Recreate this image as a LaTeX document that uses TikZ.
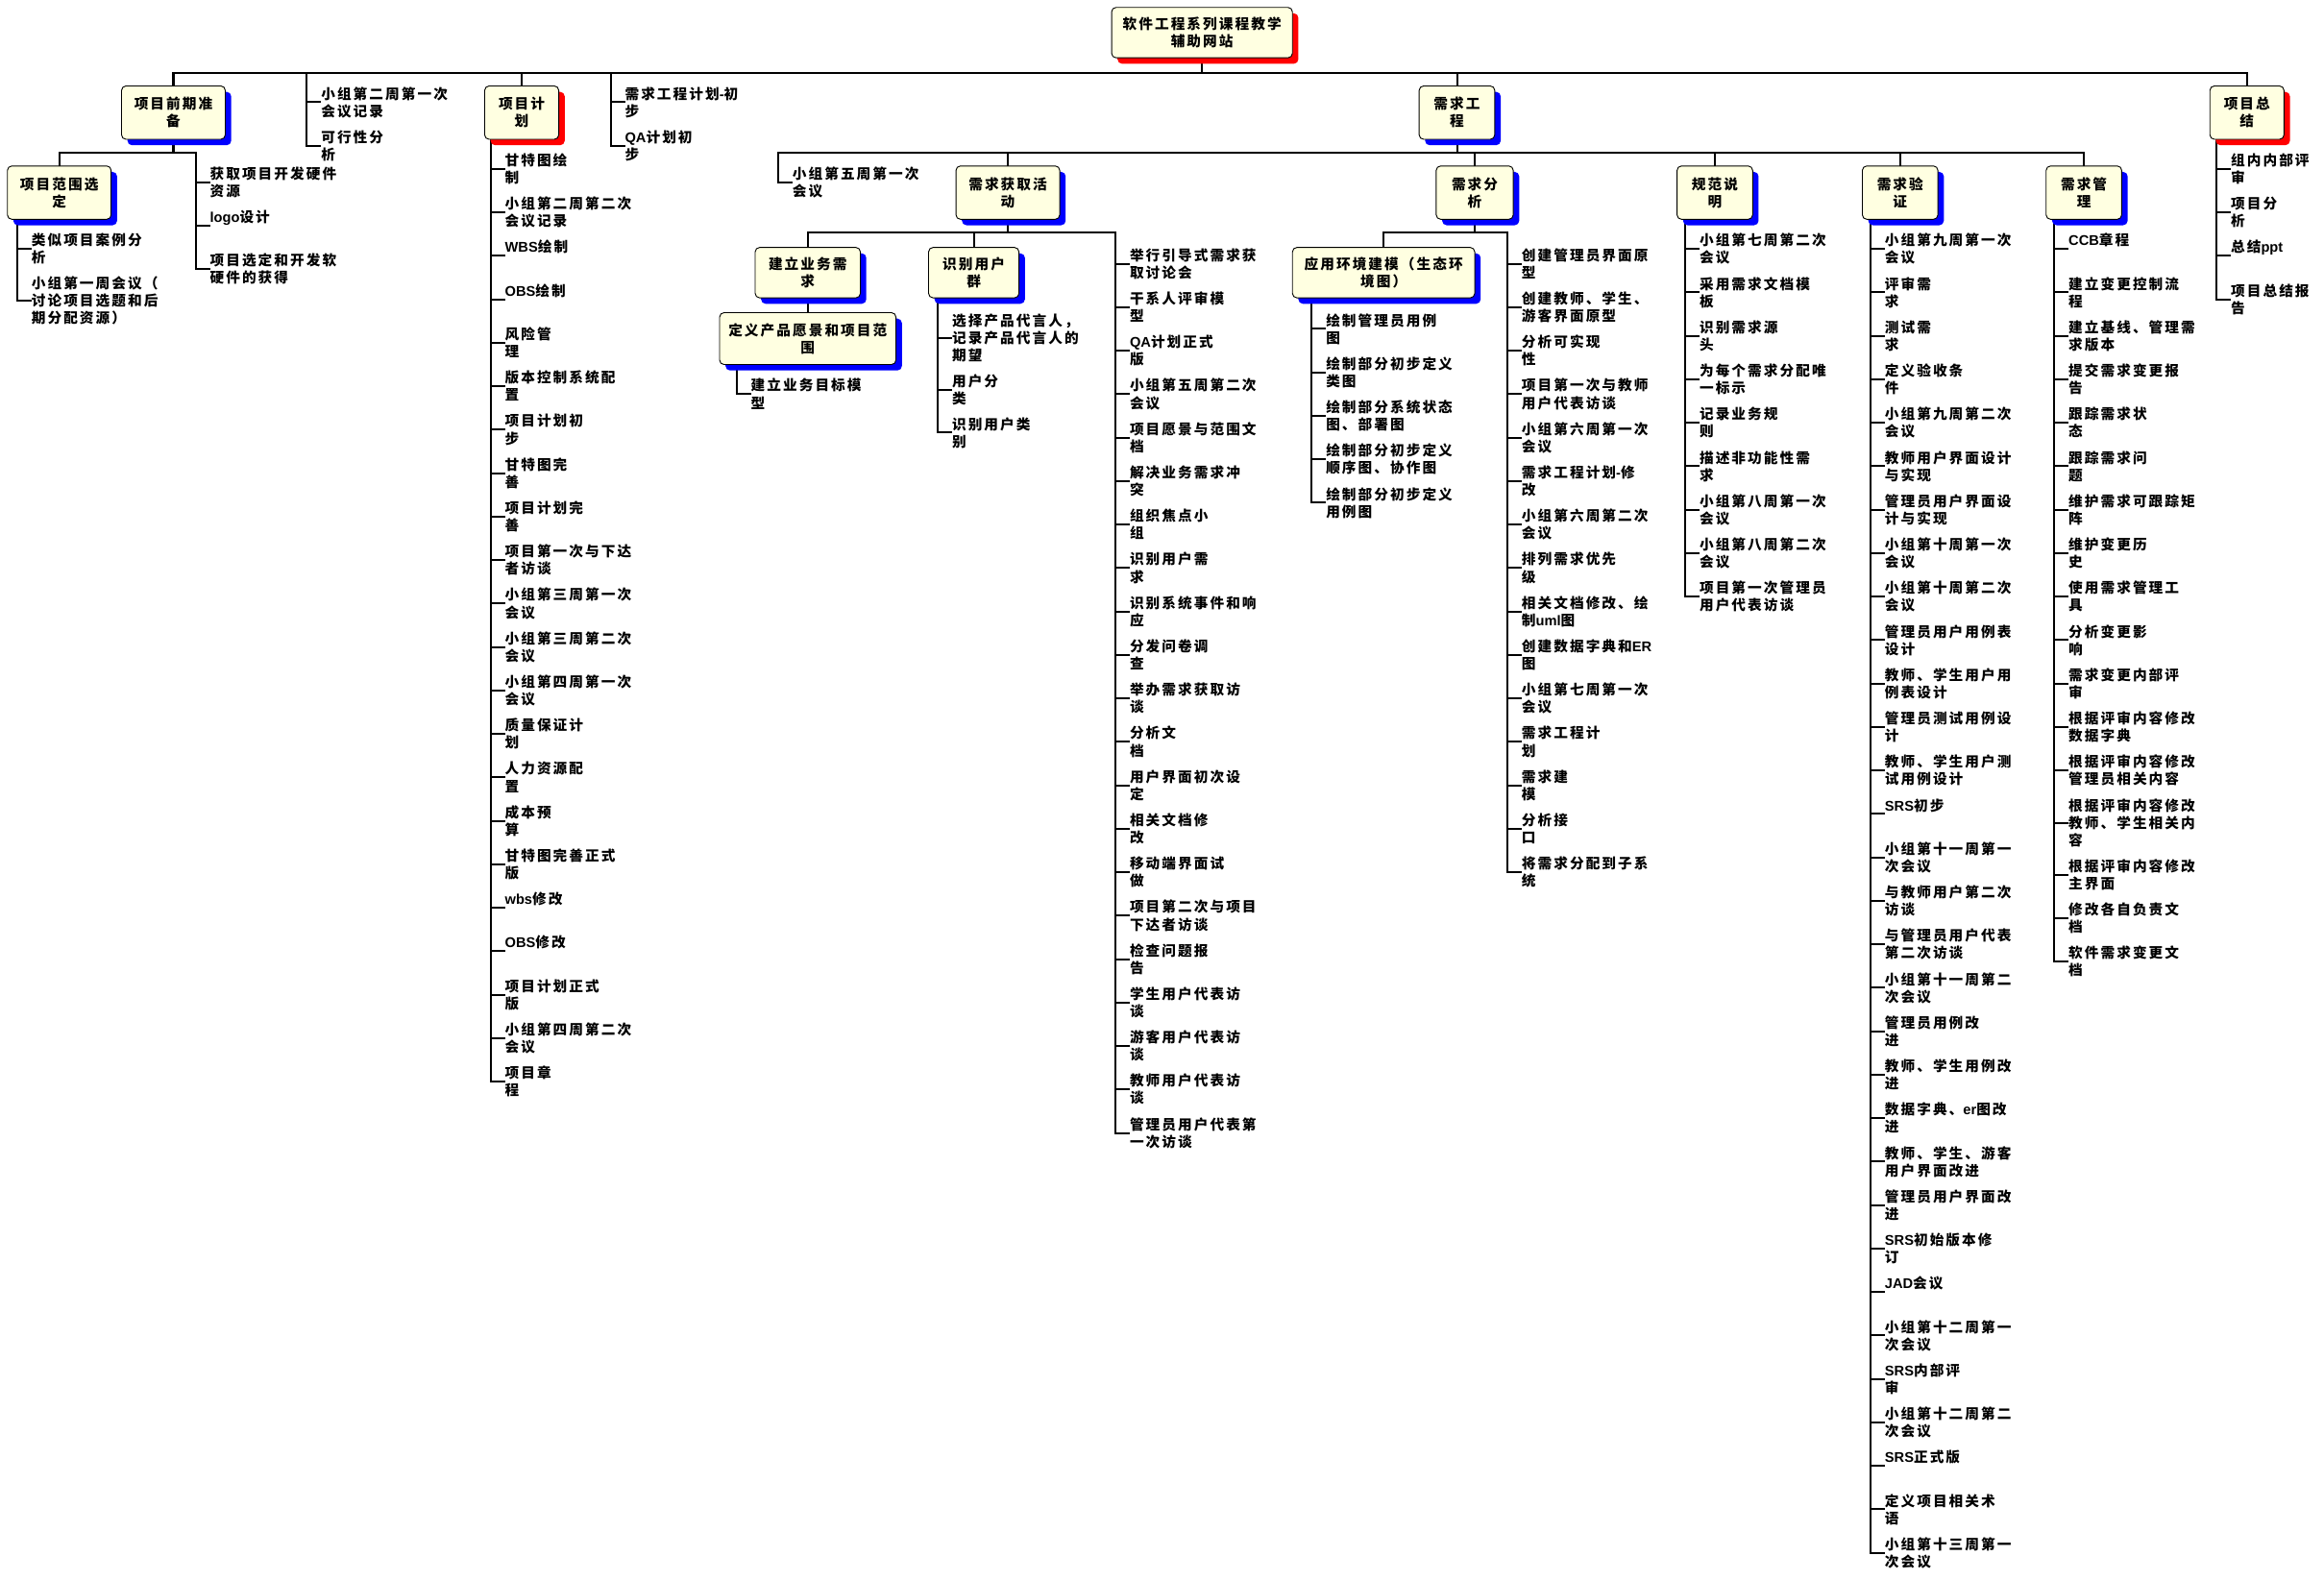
\documentclass[tikz,border=0pt]{standalone}
\usepackage{fontspec}
\newfontfamily\cjk{Noto Sans CJK SC}[LetterSpace=14]
\newfontfamily\latn{Liberation Sans}
\newcommand\lt[1]{{\latn\bfseries #1}}
\usetikzlibrary{shadows}
\pgfdeclarelayer{bg}
\pgfsetlayers{bg,main}
\definecolor{cream}{RGB}{255,255,225}
\newcommand\tfont{\fontsize{9.5}{11.7}\selectfont\cjk\bfseries}
\tikzset{
 conn/.style={line width=1.3pt,line cap=rect},
 box/.style={draw,line width=0.6pt,fill=cream,rounded corners=3pt,inner sep=0pt,align=center,font=\tfont},
 bsh/.style={drop shadow={shadow xshift=4pt,shadow yshift=-4pt,fill=blue,opacity=1}},
 rsh/.style={drop shadow={shadow xshift=4pt,shadow yshift=-4pt,fill=red,opacity=1}},
 leaf/.style={anchor=north west,inner sep=0pt,align=left,font=\tfont},
}
\newcommand\lf[5]{%
  \coordinate (#1) at (#2,#4);
  \begin{pgfonlayer}{bg}\draw[conn] (#1) -- ++(9,0);\end{pgfonlayer}
  \node[leaf] (#1t) at (#2+9.5,#3-5.4) {\rule{0pt}{9pt}#5};
}
\newcommand\leaves[4]{%
  \foreach \t [count=\i] in {#4}{%
    \pgfmathsetmacro\yy{#3+(\i-1)*29.33}%
    \lf{#1\i}{#2}{\yy}{\yy+6}{\t}%
  }%
}
\begin{document}
\begin{tikzpicture}[x=1pt,y=-1pt]
\begin{pgfonlayer}{bg}
\fill[white] (0,0) rectangle (1568,1066);
\end{pgfonlayer}
\useasboundingbox (0,0) rectangle (1568,1066);
% ---- boxes
\node[box,rsh,minimum width=122pt,minimum height=34pt] (root) at (811,22) {软件工程系列课程教学\\辅助网站};
\node[box,bsh,minimum width=70pt,minimum height=36pt] (pqzb) at (117,76) {项目前期准\\备};
\node[box,rsh,minimum width=50pt,minimum height=36pt] (xmjh) at (352,76) {项目计\\划};
\node[box,bsh,minimum width=51pt,minimum height=36pt] (xqgc) at (983,76) {需求工\\程};
\node[box,rsh,minimum width=50pt,minimum height=36pt] (xmzj) at (1516,76) {项目总\\结};
\node[box,bsh,minimum width=70pt,minimum height=36pt] (fwxd) at (40,130) {项目范围选\\定};
\node[box,bsh,minimum width=70pt,minimum height=36pt] (xqhq) at (680,130) {需求获取活\\动};
\node[box,bsh,minimum width=52pt,minimum height=36pt] (xqfx) at (995,130) {需求分\\析};
\node[box,bsh,minimum width=51pt,minimum height=36pt] (gfsm) at (1157,130) {规范说\\明};
\node[box,bsh,minimum width=51pt,minimum height=36pt] (xqyz) at (1282,130) {需求验\\证};
\node[box,bsh,minimum width=51pt,minimum height=36pt] (xqgl) at (1406,130) {需求管\\理};
\node[box,bsh,minimum width=71pt,minimum height=34pt] (jlyw) at (545,184) {建立业务需\\求};
\node[box,bsh,minimum width=61pt,minimum height=34pt] (sbyh) at (657,184) {识别用户\\群};
\node[box,bsh,minimum width=119pt,minimum height=35pt] (dycp) at (545,228.5) {定义产品愿景和项目范\\围};
\node[box,bsh,minimum width=123pt,minimum height=34pt] (yyhj) at (933.5,184) {应用环境建模（生态环\\境图）};
% ---- leaves
\leaves{a}{207}{63}{{小组第二周第一次\\会议记录},{可行性分\\析}}
\leaves{q}{412}{63}{{需求工程计划\lt{-}初\\步},{\lt{QA}计划初\\步}}
\leaves{c}{132}{117}{{获取项目开发硬件\\资源},{\lt{logo}设计},{项目选定和开发软\\硬件的获得}}
\lf{f1}{11.6}{162}{168}{类似项目案例分\\析}
\lf{f2}{11.6}{191}{203}{小组第一周会议（\\讨论项目选题和后\\期分配资源）}
\leaves{p}{331}{108}{{甘特图绘\\制},{小组第二周第二次\\会议记录},{\lt{WBS}绘制},{\lt{OBS}绘制},{风险管\\理},{版本控制系统配\\置},{项目计划初\\步},{甘特图完\\善},{项目计划完\\善},{项目第一次与下达\\者访谈},{小组第三周第一次\\会议},{小组第三周第二次\\会议},{小组第四周第一次\\会议},{质量保证计\\划},{人力资源配\\置},{成本预\\算},{甘特图完善正式\\版},{\lt{wbs}修改},{\lt{OBS}修改},{项目计划正式\\版},{小组第四周第二次\\会议},{项目章\\程}}
\leaves{w}{525}{117}{{小组第五周第一次\\会议}}
\lf{d1}{497}{260}{266}{建立业务目标模\\型}
\lf{s1}{632.7}{216}{228}{选择产品代言人，\\记录产品代言人的\\期望}
\lf{s2}{632.7}{257}{263}{用户分\\类}
\lf{s3}{632.7}{286}{292}{识别用户类\\别}
\leaves{h}{752.6}{172}{{举行引导式需求获\\取讨论会},{干系人评审模\\型},{\lt{QA}计划正式\\版},{小组第五周第二次\\会议},{项目愿景与范围文\\档},{解决业务需求冲\\突},{组织焦点小\\组},{识别用户需\\求},{识别系统事件和响\\应},{分发问卷调\\查},{举办需求获取访\\谈},{分析文\\档},{用户界面初次设\\定},{相关文档修\\改},{移动端界面试\\做},{项目第二次与项目\\下达者访谈},{检查问题报\\告},{学生用户代表访\\谈},{游客用户代表访\\谈},{教师用户代表访\\谈},{管理员用户代表第\\一次访谈}}
\leaves{e}{885}{216}{{绘制管理员用例\\图},{绘制部分初步定义\\类图},{绘制部分系统状态\\图、部署图},{绘制部分初步定义\\顺序图、协作图},{绘制部分初步定义\\用例图}}
\leaves{r}{1017}{172}{{创建管理员界面原\\型},{创建教师、学生、\\游客界面原型},{分析可实现\\性},{项目第一次与教师\\用户代表访谈},{小组第六周第一次\\会议},{需求工程计划\lt{-}修\\改},{小组第六周第二次\\会议},{排列需求优先\\级},{相关文档修改、绘\\制\lt{uml}图},{创建数据字典和\lt{ER}\\图},{小组第七周第一次\\会议},{需求工程计\\划},{需求建\\模},{分析接\\口},{将需求分配到子系\\统}}
\leaves{g}{1137}{162}{{小组第七周第二次\\会议},{采用需求文档模\\板},{识别需求源\\头},{为每个需求分配唯\\一标示},{记录业务规\\则},{描述非功能性需\\求},{小组第八周第一次\\会议},{小组第八周第二次\\会议},{项目第一次管理员\\用户代表访谈}}
\leaves{v}{1262}{162}{{小组第九周第一次\\会议},{评审需\\求},{测试需\\求},{定义验收条\\件},{小组第九周第二次\\会议},{教师用户界面设计\\与实现},{管理员用户界面设\\计与实现},{小组第十周第一次\\会议},{小组第十周第二次\\会议},{管理员用户用例表\\设计},{教师、学生用户用\\例表设计},{管理员测试用例设\\计},{教师、学生用户测\\试用例设计},{\lt{SRS}初步},{小组第十一周第一\\次会议},{与教师用户第二次\\访谈},{与管理员用户代表\\第二次访谈},{小组第十一周第二\\次会议},{管理员用例改\\进},{教师、学生用例改\\进},{数据字典、\lt{er}图改\\进},{教师、学生、游客\\用户界面改进},{管理员用户界面改\\进},{\lt{SRS}初始版本修\\订},{\lt{JAD}会议},{小组第十二周第一\\次会议},{\lt{SRS}内部评\\审},{小组第十二周第二\\次会议},{\lt{SRS}正式版},{定义项目相关术\\语},{小组第十三周第一\\次会议}}
\leaves{m}{1386}{162}{{\lt{CCB}章程},{建立变更控制流\\程},{建立基线、管理需\\求版本},{提交需求变更报\\告},{跟踪需求状\\态},{跟踪需求问\\题},{维护需求可跟踪矩\\阵},{维护变更历\\史},{使用需求管理工\\具},{分析变更影\\响},{需求变更内部评\\审},{根据评审内容修改\\数据字典},{根据评审内容修改\\管理员相关内容}}
\lf{m14}{1386}{543.3}{555.3}{根据评审内容修改\\教师、学生相关内\\容}
\leaves{n}{1386}{584.3}{{根据评审内容修改\\主界面},{修改各自负责文\\档},{软件需求变更文\\档}}
\leaves{z}{1495.5}{108}{{组内内部评\\审},{项目分\\析},{总结\lt{ppt}},{项目总结报\\告}}
% ---- connectors
\begin{pgfonlayer}{bg}
\coordinate (b1) at (811,49);
\draw[conn] (root.south) -- (b1);
\draw[conn] (pqzb.north |- b1) -- (xmzj.north |- b1);
\foreach \n in {pqzb,xmjh,xqgc,xmzj} \draw[conn] (\n.north |- b1) -- (\n.north);
\draw[conn] (a1 |- b1) -- (a2);
\draw[conn] (q1 |- b1) -- (q2);
\coordinate (b2) at (117,103);
\draw[conn] (pqzb.south) -- (b2);
\draw[conn] (fwxd.north |- b2) -- (c1 |- b2);
\draw[conn] (fwxd.north |- b2) -- (fwxd.north);
\draw[conn] (c1 |- b2) -- (c3);
\draw[conn] (f1 |- fwxd.south) -- (f2);
\draw[conn] (p1 |- xmjh.south) -- (p22);
\coordinate (b3) at (983,103);
\draw[conn] (xqgc.south) -- (b3);
\draw[conn] (w1 |- b3) -- (xqgl.north |- b3);
\foreach \n in {xqhq,xqfx,gfsm,xqyz,xqgl} \draw[conn] (\n.north |- b3) -- (\n.north);
\draw[conn] (w1 |- b3) -- (w1);
\coordinate (b4) at (680,157);
\draw[conn] (xqhq.south) -- (b4);
\draw[conn] (jlyw.north |- b4) -- (h1 |- b4);
\foreach \n in {jlyw,sbyh} \draw[conn] (\n.north |- b4) -- (\n.north);
\draw[conn] (h1 |- b4) -- (h21);
\draw[conn] (jlyw.south) -- (dycp.north);
\draw[conn] (d1 |- dycp.south) -- (d1);
\draw[conn] (s1 |- sbyh.south) -- (s3);
\coordinate (b5) at (995,157);
\draw[conn] (xqfx.south) -- (b5);
\draw[conn] (yyhj.north |- b5) -- (r1 |- b5);
\draw[conn] (yyhj.north |- b5) -- (yyhj.north);
\draw[conn] (r1 |- b5) -- (r15);
\draw[conn] (e1 |- yyhj.south) -- (e5);
\draw[conn] (g1 |- gfsm.south) -- (g9);
\draw[conn] (v1 |- xqyz.south) -- (v31);
\draw[conn] (m1 |- xqgl.south) -- (n3);
\draw[conn] (z1 |- xmzj.south) -- (z4);
\end{pgfonlayer}
\end{tikzpicture}
\end{document}
